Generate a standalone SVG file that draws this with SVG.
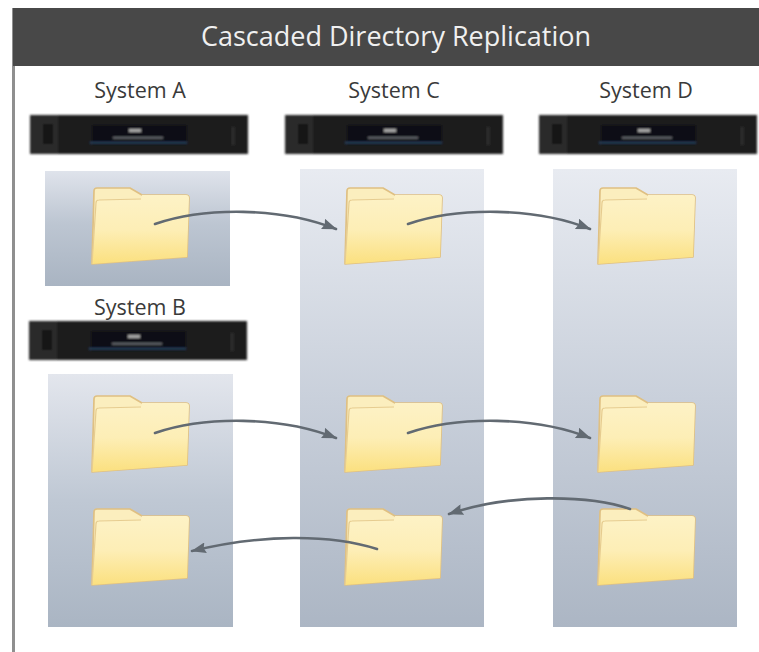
<svg xmlns="http://www.w3.org/2000/svg" width="759" height="652" viewBox="0 0 759 652">
<style>
text{font-family:"Open Sans","Noto Sans",sans-serif}
.label{font-size:21.5px;fill:#3a3a3a;text-anchor:middle}
.title{font-size:27px;fill:#f0f0f0;text-anchor:middle}
.conn{fill:none;stroke:#626a72;stroke-width:2.6;stroke-linecap:round;marker-end:url(#arrow)}
</style>
<defs>
<linearGradient id="panelA" x1="0" y1="0" x2="0" y2="1"><stop offset="0" stop-color="#dfe3eb"/><stop offset=".45" stop-color="#bdc6d2"/><stop offset="1" stop-color="#a9b4c2"/></linearGradient>
<linearGradient id="panelT" x1="0" y1="0" x2="0" y2="1"><stop offset="0" stop-color="#e8ebf1"/><stop offset=".5" stop-color="#c9d0db"/><stop offset="1" stop-color="#acb6c4"/></linearGradient>
<linearGradient id="panelB" x1="0" y1="0" x2="0" y2="1"><stop offset="0" stop-color="#e3e6ed"/><stop offset=".5" stop-color="#bfc8d4"/><stop offset="1" stop-color="#aab5c3"/></linearGradient>
<linearGradient id="front" x1="0" y1="0" x2="0" y2="1"><stop offset="0" stop-color="#fdf2c6"/><stop offset=".5" stop-color="#fdeeb6"/><stop offset="1" stop-color="#fbe07f"/></linearGradient>
<filter id="soft" x="-5%" y="-5%" width="110%" height="110%"><feGaussianBlur stdDeviation=".7"/></filter>
<filter id="softer" x="-5%" y="-20%" width="110%" height="140%"><feGaussianBlur stdDeviation="1.1"/></filter>
<marker id="arrow" viewBox="0 0 15 11" refX="14" refY="5.5" markerWidth="15" markerHeight="11" markerUnits="userSpaceOnUse" orient="auto"><path d="M0,0 L15,5.5 L0,11 L2,5.5 Z" fill="#626a72"/></marker>
<symbol id="folder" width="104" height="84" viewBox="0 0 104 84" overflow="visible">
<g filter="url(#soft)">
<path d="M1,76 L3,3 Q3,0 6,0 L39,0 L51,7 L95,7 Q98,7 98,10 L96,69 Z" fill="#fbeebe" stroke="#dfc083" stroke-width="1.7" stroke-linejoin="round"/>
<path d="M1,76 L5,15 Q5,12 8,12 L50,11 L51,7 L95,7 Q98,7 98,10 L96,69 Z" fill="url(#front)"/>
<path d="M1,76 L5,15 Q5,12 8,12 L50,11" fill="none" stroke="#e6cc90" stroke-width="1.2"/>
</g>
</symbol>
<symbol id="server" width="218" height="39" viewBox="0 0 218 39" overflow="visible">
<g filter="url(#softer)">
<rect width="218" height="39" fill="#1b1b1c"/>
<rect x="0" width="28" height="39" fill="#2a2a2b"/>
<rect x="13" y="9" width="10" height="20" fill="#191919"/>
<rect x="62" y="10" width="95" height="20" fill="#101113"/>
<rect x="99" y="14" width="12" height="3" fill="#a8a8a8"/>
<rect x="83" y="22" width="50" height="1.6" fill="#6f7379"/>
<rect x="60" y="27" width="97" height="1.5" fill="#2f4866"/>
<rect x="202" y="12" width="2.5" height="18" fill="#333"/>
</g>
</symbol>
</defs>
<rect width="759" height="652" fill="#fff"/>
<g id="frame">
<rect x="12" y="8" width="3" height="644" fill="#8f8f8f"/>
<rect x="13" y="8" width="746" height="58" fill="#484848"/>
<text class="title" x="396" y="46">Cascaded Directory Replication</text>
</g>
<g id="system-a">
<text class="label" x="140" y="98">System A</text>
<use href="#server" x="30" y="115"/>
<rect x="45" y="171" width="185" height="115" fill="url(#panelA)"/>
<use href="#folder" x="91" y="188"/>
</g>
<g id="system-b">
<text class="label" x="140" y="315">System B</text>
<use href="#server" x="29" y="321"/>
<rect x="48" y="374" width="185" height="253" fill="url(#panelB)"/>
<use href="#folder" x="91" y="396"/>
<use href="#folder" x="91" y="509"/>
</g>
<g id="system-c">
<text class="label" x="394" y="98">System C</text>
<use href="#server" x="285" y="115"/>
<rect x="300" y="169" width="184" height="458" fill="url(#panelT)"/>
<use href="#folder" x="344" y="188"/>
<use href="#folder" x="344" y="396"/>
<use href="#folder" x="344" y="509"/>
</g>
<g id="system-d">
<text class="label" x="646" y="98">System D</text>
<use href="#server" x="539" y="115"/>
<rect x="553" y="169" width="184" height="458" fill="url(#panelT)"/>
<use href="#folder" x="597" y="188"/>
<use href="#folder" x="597" y="396"/>
<use href="#folder" x="597" y="509"/>
</g>
<g id="connectors">
<path class="conn" d="M155,224 C205,207 280,207 336,229"/>
<path class="conn" d="M408,224 C458,207 535,207 590,229"/>
<path class="conn" d="M155,433 C205,416 280,416 336,438"/>
<path class="conn" d="M408,433 C458,416 535,416 590,438"/>
<path class="conn" d="M630,509 C590,495 510,493 449,514"/>
<path class="conn" d="M377,549 C330,534 262,534 192,551"/>
</g>
</svg>
